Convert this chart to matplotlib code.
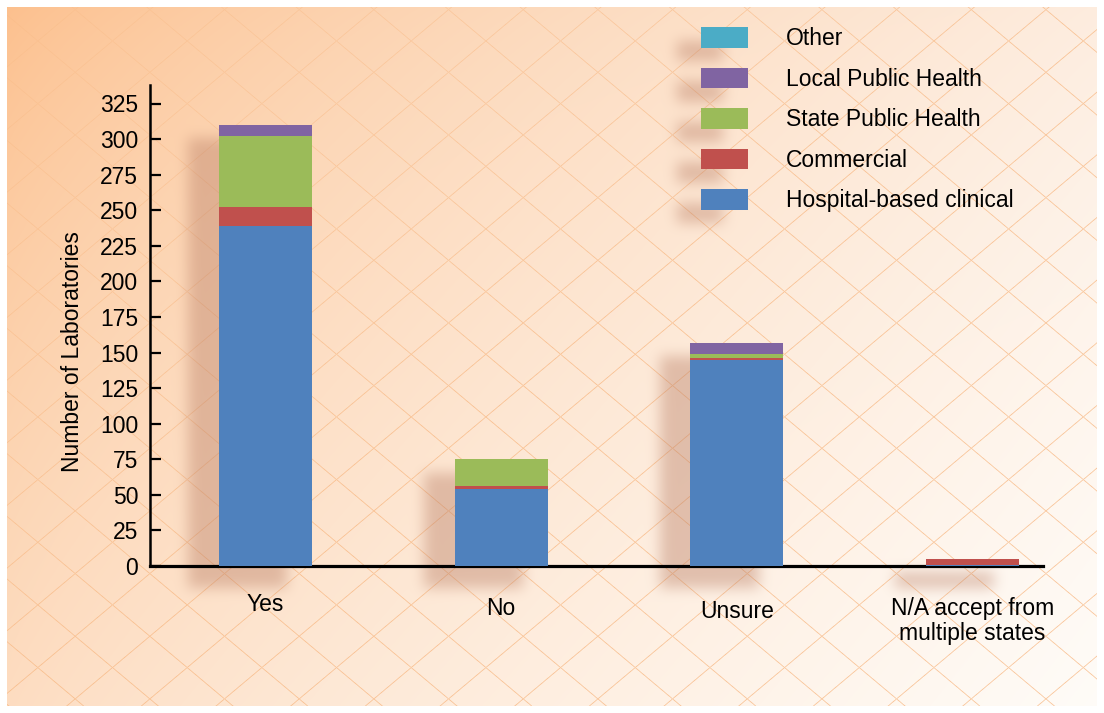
import numpy as np
import matplotlib
matplotlib.use('Agg')
import matplotlib.pyplot as plt
from matplotlib.transforms import offset_copy

# ---------------- data ----------------
categories = ['Yes', 'No', 'Unsure', 'N/A accept from\nmultiple states']
series_names = ['Hospital-based clinical', 'Commercial', 'State Public Health',
                'Local Public Health', 'Other']
hospital = [239, 54, 145, 1]
commercial = [13, 2, 1, 4]
state_ph = [50, 19, 3, 0]
local_ph = [8, 0, 8, 0]
other = [0, 0, 0, 0]
colors = ['#4f81bd', '#c0504d', '#9bbb59', '#8064a2', '#4bacc6']
yticks = list(range(0, 326, 25))
ylabel = 'Number of Laboratories'

# per-label vertical drop of the last text baseline (pixels below the axis)
label_drop = [45, 49, 52, 74]

plt.rcParams['font.family'] = ['Liberation Sans', 'DejaVu Sans']
FS = 16.5

W, H = 1104, 713
fig = plt.figure(figsize=(W / 100, H / 100), dpi=100)
fig.patch.set_facecolor('white')
ax = fig.add_axes([150 / W, 1 - 566 / H, 893 / W, 481 / H])
ax.set_facecolor('none')

x = np.arange(len(categories))
bottom = np.zeros(len(categories))
containers = []
for vals, name, c in zip([hospital, commercial, state_ph, local_ph, other],
                         series_names, colors):
    b = ax.bar(x, vals, width=0.395, bottom=bottom, color=c, label=name,
               zorder=3, linewidth=0)
    bottom += np.array(vals, dtype=float)
    containers.append(b)

ax.set_xlim(-0.49, 3.3)
ax.set_ylim(0, 338)
ax.set_yticks(yticks)
ax.set_xticks(x)
ax.set_xticklabels([])
ax.tick_params(axis='x', length=0)
for xi, cat, drop in zip(x, categories, label_drop):
    tr = offset_copy(ax.get_xaxis_transform(), fig=fig, x=0, y=-drop, units='dots')
    ax.text(xi, 0, cat, transform=tr, ha='center', va='baseline',
            multialignment='center', fontsize=FS, linespacing=1.09)
ax.tick_params(axis='y', direction='in', length=8, width=1.6, labelsize=FS, pad=8.5)
for s in ['top', 'right']:
    ax.spines[s].set_visible(False)
ax.spines['left'].set_linewidth(1.8)
ax.spines['bottom'].set_linewidth(2.3)
ax.set_ylabel(ylabel, fontsize=FS)
ax.yaxis.set_label_coords(-0.074, 0.445)

handles, labels = ax.get_legend_handles_labels()
leg = ax.legend(handles[::-1], labels[::-1], loc='upper left',
                bbox_to_anchor=(701 / W, 1 - 27 / H), bbox_transform=fig.transFigure,
                frameon=False, fontsize=FS, borderpad=0, borderaxespad=0,
                handlelength=2.05, handleheight=1.0, handletextpad=1.66,
                labelspacing=0.76)

# ---------------- background (gradient, diagonal grid, soft shadows) ----------------
fig.canvas.draw()
renderer = fig.canvas.get_renderer()

Y, X = np.mgrid[0:H, 0:W].astype(float)
u = X / W
v = Y / H
tl = np.array([252, 190, 138.0])
tr_c = np.array([253, 236, 222.0])
bl = np.array([253, 220, 192.0])
br = np.array([255, 252, 248.0])
uu = u[..., None] ** 0.75
vv = v[..., None] ** 0.75
img = (tl * (1 - uu) * (1 - vv) + tr_c * uu * (1 - vv) + bl * (1 - uu) * vv + br * uu * vv)

# diagonal grid
sp = 48.0
lines = np.zeros((H, W))
for ang in (np.deg2rad(40), np.deg2rad(-40)):
    d = X * np.sin(ang) - Y * np.cos(ang)
    r = np.mod(d + 7, sp)
    dist = np.minimum(r, sp - r)
    lines = np.maximum(lines, np.clip(1 - dist / 0.9, 0, 1))
line_col = np.array([247, 182, 128.0])
la = (0.25 + 0.45 * np.clip(u + v, 0, 1))[..., None] * lines[..., None]
img = img * (1 - la) + line_col * la

# shadows
mask = np.zeros((H, W))
def add_rect(x0, x1, r0, r1):
    x0, x1 = int(max(0, x0)), int(min(W, x1))
    r0, r1 = int(max(0, r0)), int(min(H, r1))
    if x1 > x0 and r1 > r0:
        mask[r0:r1, x0:x1] = 1.0

for i in range(len(categories)):
    exts = [c.patches[i].get_window_extent(renderer) for c in containers
            if c.patches[i].get_height() > 0]
    bx0 = min(e.x0 for e in exts); bx1 = max(e.x1 for e in exts)
    by0 = min(e.y0 for e in exts); by1 = max(e.y1 for e in exts)
    add_rect(bx0 - 30, bx1 - 24, H - by1 + 14, H - by0 + 22)

for h in leg.legend_handles:
    e = h.get_window_extent(renderer)
    add_rect(e.x0 - 24, e.x1 - 24, H - e.y1 + 14, H - e.y0 + 14)

def box_blur(a, r):
    k = 2 * r + 1
    p = np.pad(a, ((r, r), (0, 0)), mode='edge')
    c = np.cumsum(np.vstack([np.zeros((1, p.shape[1])), p]), axis=0)
    a = (c[k:] - c[:-k]) / k
    p = np.pad(a, ((0, 0), (r, r)), mode='edge')
    c = np.cumsum(np.hstack([np.zeros((p.shape[0], 1)), p]), axis=1)
    return (c[:, k:] - c[:, :-k]) / k

for _ in range(3):
    mask = box_blur(mask, 6)
sh_col = np.array([185, 125, 100.0])
sa = (0.42 * mask)[..., None]
img = img * (1 - sa) + sh_col * sa

# white border
b = 7
img[:b, :] = 255
img[-b:, :] = 255
img[:, :b] = 255
img[:, -b:] = 255

bg = fig.add_axes([0, 0, 1, 1], zorder=-5)
bg.imshow(np.clip(img, 0, 255).astype(np.uint8), aspect='auto', interpolation='bilinear')
bg.axis('off')

fig.savefig('out.png', dpi=100)
